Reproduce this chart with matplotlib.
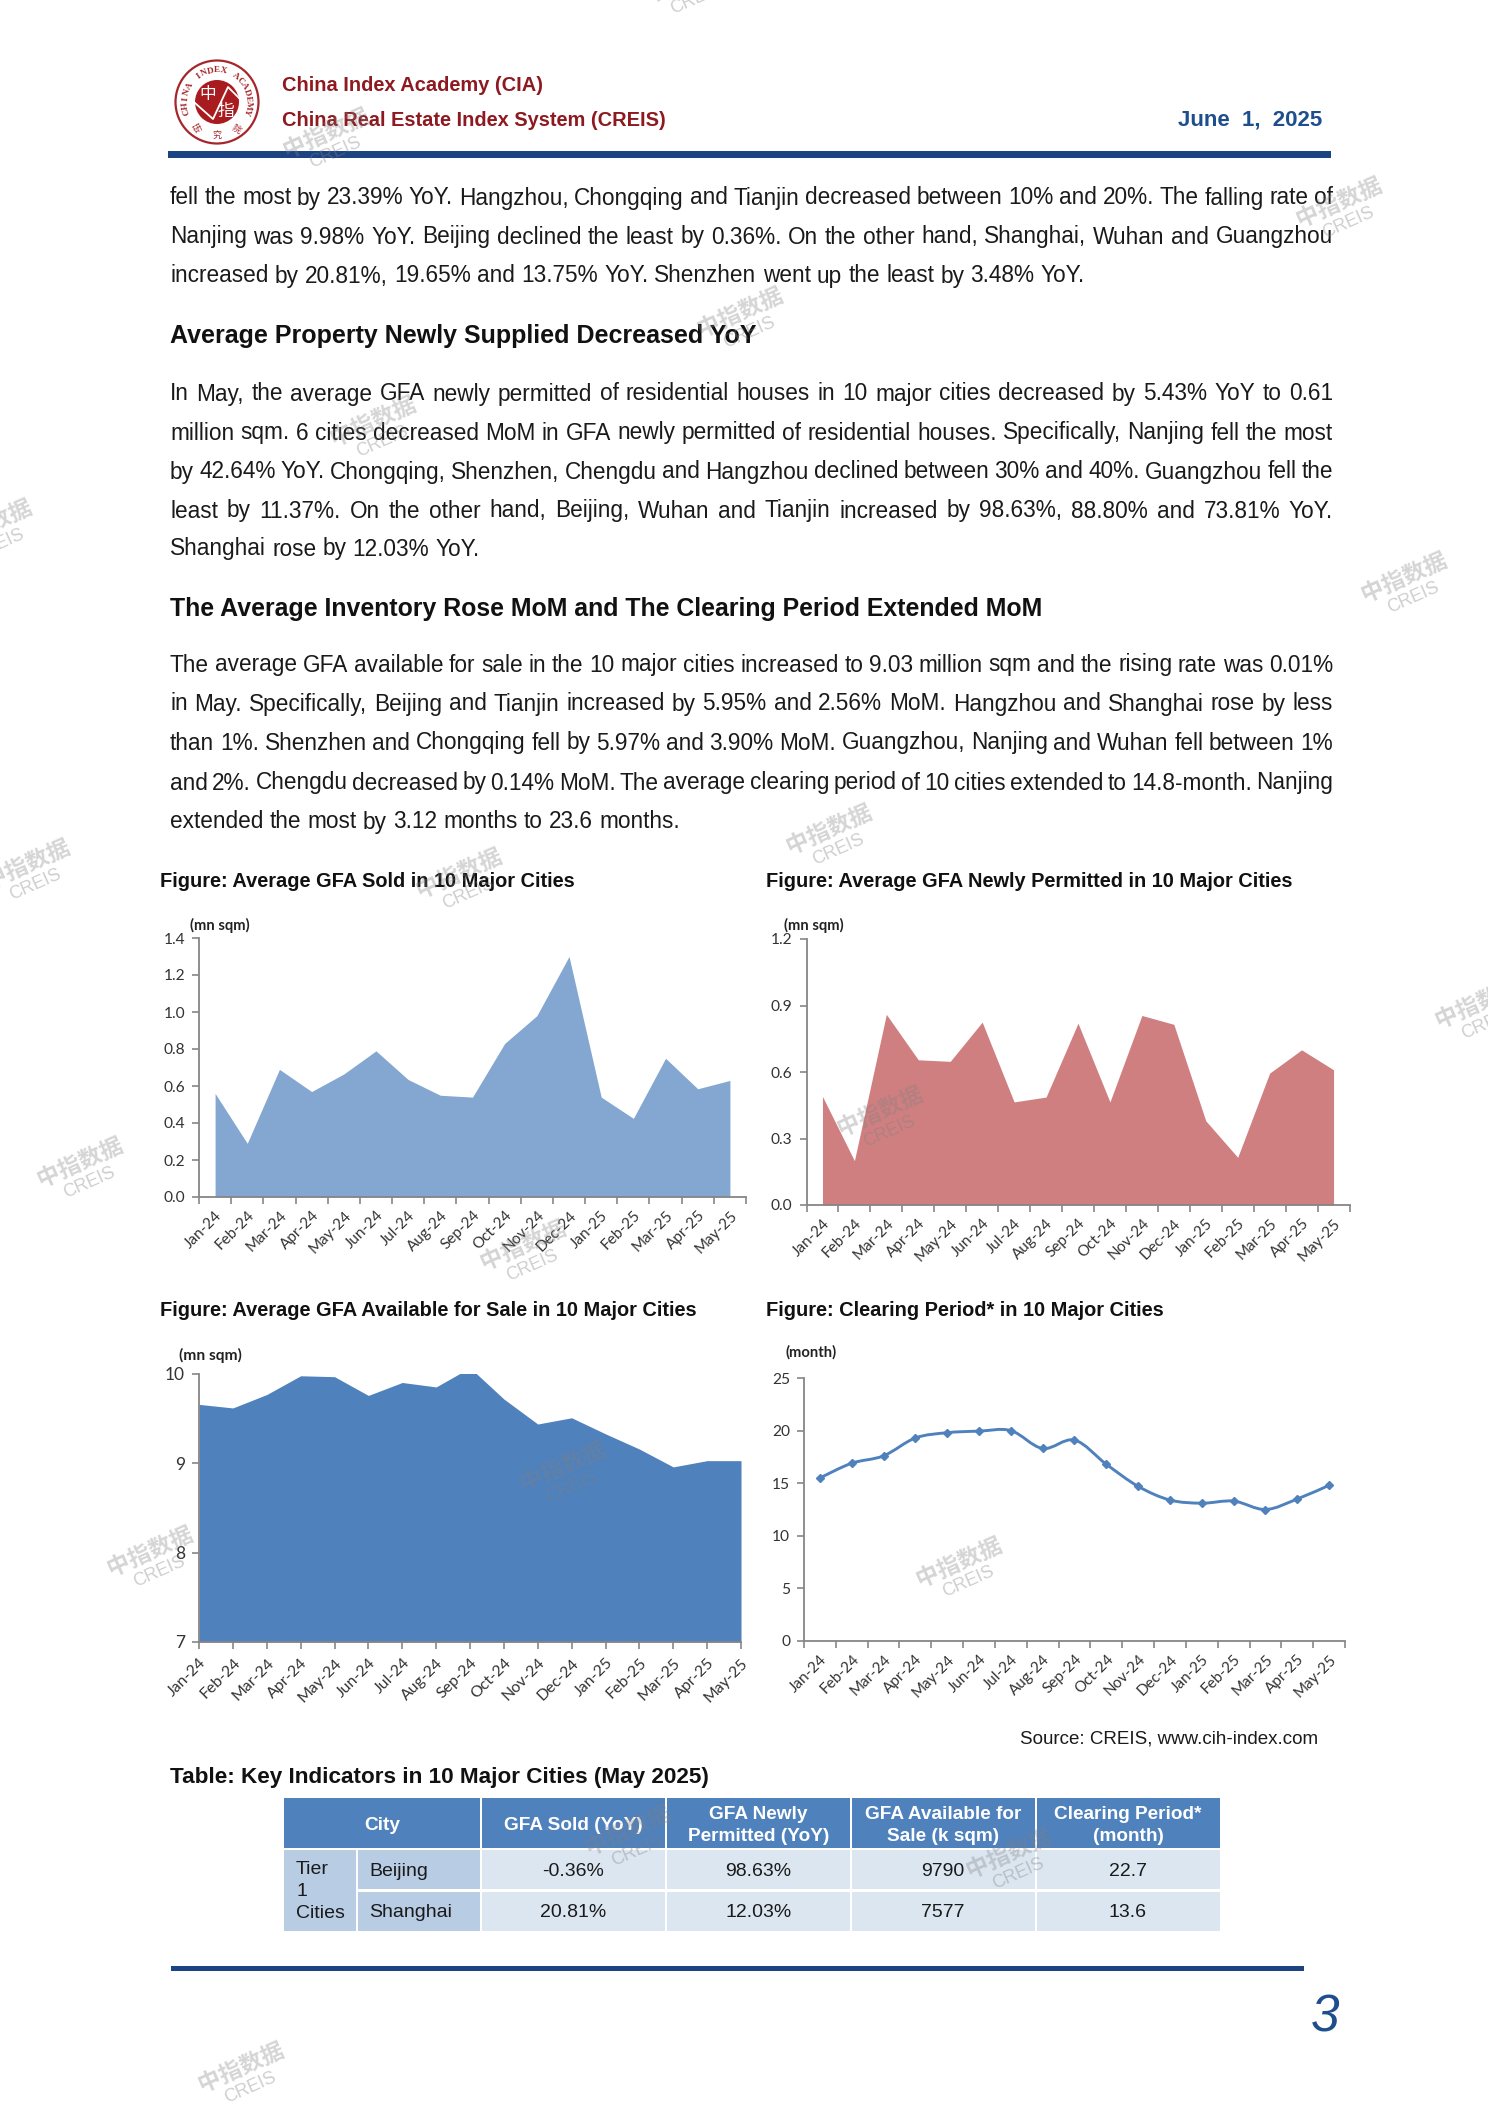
import numpy as np
import matplotlib
matplotlib.use("Agg")
import matplotlib.pyplot as plt
from matplotlib.patches import Rectangle, Circle, PathPatch
from matplotlib.path import Path

W, H = 1488, 2104
months = ["Jan-24","Feb-24","Mar-24","Apr-24","May-24","Jun-24","Jul-24","Aug-24","Sep-24",
          "Oct-24","Nov-24","Dec-24","Jan-25","Feb-25","Mar-25","Apr-25","May-25"]
gfa_sold = [0.56,0.29,0.69,0.57,0.665,0.79,0.635,0.55,0.54,0.83,0.98,1.30,0.54,0.425,0.75,0.585,0.63]
gfa_permitted = [0.49,0.20,0.86,0.655,0.648,0.825,0.465,0.487,0.82,0.465,0.855,0.815,0.38,0.215,0.595,0.70,0.61]
gfa_available = [9.66,9.62,9.77,9.98,9.97,9.76,9.905,9.855,10.07,9.72,9.44,9.51,9.33,9.16,8.96,9.03,9.03]
clearing = [15.5,16.9,17.6,19.3,19.8,19.95,20.0,18.3,19.1,16.8,14.7,13.4,13.1,13.3,12.5,13.5,14.8]

sold_ticks = [0.0,0.2,0.4,0.6,0.8,1.0,1.2,1.4]
permitted_ticks = [0.0,0.3,0.6,0.9,1.2]
available_ticks = [7,8,9,10]
clearing_ticks = [0,5,10,15,20,25]

para1 = ["fell the most by 23.39% YoY. Hangzhou, Chongqing and Tianjin decreased between 10% and 20%. The falling rate of",
         "Nanjing was 9.98% YoY. Beijing declined the least by 0.36%. On the other hand, Shanghai, Wuhan and Guangzhou",
         "increased by 20.81%, 19.65% and 13.75% YoY. Shenzhen went up the least by 3.48% YoY."]
heading1 = "Average Property Newly Supplied Decreased YoY"
para2 = ["In May, the average GFA newly permitted of residential houses in 10 major cities decreased by 5.43% YoY to 0.61",
         "million sqm. 6 cities decreased MoM in GFA newly permitted of residential houses. Specifically, Nanjing fell the most",
         "by 42.64% YoY. Chongqing, Shenzhen, Chengdu and Hangzhou declined between 30% and 40%. Guangzhou fell the",
         "least by 11.37%. On the other hand, Beijing, Wuhan and Tianjin increased by 98.63%, 88.80% and 73.81% YoY.",
         "Shanghai rose by 12.03% YoY."]
heading2 = "The Average Inventory Rose MoM and The Clearing Period Extended MoM"
para3 = ["The average GFA available for sale in the 10 major cities increased to 9.03 million sqm and the rising rate was 0.01%",
         "in May. Specifically, Beijing and Tianjin increased by 5.95% and 2.56% MoM. Hangzhou and Shanghai rose by less",
         "than 1%. Shenzhen and Chongqing fell by 5.97% and 3.90% MoM. Guangzhou, Nanjing and Wuhan fell between 1%",
         "and 2%. Chengdu decreased by 0.14% MoM. The average clearing period of 10 cities extended to 14.8-month. Nanjing",
         "extended the most by 3.12 months to 23.6 months."]

table_header = ["City","GFA Sold (YoY)","GFA Newly\nPermitted (YoY)","GFA Available for\nSale (k sqm)","Clearing Period*\n(month)"]
table_group = "Tier\n1\nCities"
table_cities = ["Beijing","Shanghai"]
table_rows = [["-0.36%","98.63%","9790","22.7"],["20.81%","12.03%","7577","13.6"]]

watermarks = [(243,103),(998,155),(552,237),(278,318),(1047,434),(-8,395),(20,648),(618,622),(342,655),
              (1102,752),(60,870),(656,832),(390,932),(420,1097),(112,1160),(715,1168),(468,1368),(752,1385),
              (180,1545),(512,-12)]

SANS = ["Liberation Sans", "DejaVu Sans"]
plt.rcParams["font.family"] = SANS
fig = plt.figure(figsize=(W/100, H/100), dpi=100, facecolor="white")
page = fig.add_axes([0,0,1,1], zorder=0)
page.set_xlim(0,W); page.set_ylim(H,0); page.axis("off")
rend = fig.canvas.get_renderer()

RED = "#8E1A20"; BODY = 16.3; DY = 2.5

def width(s, **kw):
    t = page.text(0,0,s,**kw); w = t.get_window_extent(rend).width; t.remove(); return w

def body(lines, ys):
    sp = width("a a", fontsize=BODY) - width("aa", fontsize=BODY)
    for i,(s,y) in enumerate(zip(lines,ys)):
        words = s.split(" ")
        ws = [width(w, fontsize=BODY) for w in words]
        last = i == len(lines)-1
        gap = sp if last else (1333-170-sum(ws))/(len(words)-1)
        x = 170
        for w,ww in zip(words,ws):
            page.text(x,y+DY-0.5,w,fontsize=BODY,color="#1a1a1a",va="center",ha="left")
            x += ww+gap

body(para1,[196,235,274])
page.text(170,333+DY,heading1,fontsize=18.0,fontweight="bold",color="#111",va="center")
body(para2,[392,431,470,509,547])
page.text(170,606.5+DY,heading2,fontsize=17.95,fontweight="bold",color="#111",va="center")
body(para3,[663,702,741,781,820])

# header
page.text(282,85.5,"China Index Academy (CIA)",fontsize=14.4,fontweight="bold",color=RED,va="center")
page.text(282,120.5,"China Real Estate Index System (CREIS)",fontsize=14.4,fontweight="bold",color=RED,va="center")
page.text(1322,120,"June  1,  2025",fontsize=16,fontweight="bold",color="#1F4E8C",va="center",ha="right")
page.add_patch(Rectangle((168,151),1163,7,fc="#1C4482",ec="none"))
# logo
cx,cy = 217,102
page.add_patch(Circle((cx,cy),41.5,fc="white",ec="#A6262B",lw=1.6))
page.add_patch(Circle((cx,cy),22,fc="#A81C20",ec="none"))
page.text(cx-9,cy-8,"中",fontsize=12,color="white",family="Noto Sans CJK SC",ha="center",va="center")
page.text(cx+9,cy+9,"指",fontsize=12,color="white",family="Noto Sans CJK SC",ha="center",va="center")
page.plot([cx-22,cx-4,cx+11,cx+22],[cy+1,cy+17,cy-15,cy-4],color="white",lw=1.3)
arc = "CHINA INDEX ACADEMY"
for ch,a in zip(arc,np.linspace(-108,108,len(arc))):
    r = np.radians(a)
    page.text(cx+31.5*np.sin(r),cy-31.5*np.cos(r),ch,fontsize=6.6,family="Liberation Serif",fontweight="bold",
              color="#A6262B",rotation=-a,ha="center",va="center",rotation_mode="anchor")
for ch,dx,dy,rt in zip("研究院",(-19,0,19),(27,33,27),(30,0,-30)):
    page.text(cx+dx,cy+dy,ch,fontsize=6.5,family="Noto Sans CJK SC",color="#A6262B",rotation=rt,ha="center",va="center")

# figure titles
for x,y,s in [(160,879,"Figure: Average GFA Sold in 10 Major Cities"),
              (766,879,"Figure: Average GFA Newly Permitted in 10 Major Cities"),
              (160,1308,"Figure: Average GFA Available for Sale in 10 Major Cities"),
              (766,1308,"Figure: Clearing Period* in 10 Major Cities")]:
    page.text(x,y+DY,s,fontsize=14.45,fontweight="bold",color="#111",va="center")
page.text(1318,1736+DY,"Source: CREIS, www.cih-index.com",fontsize=13.5,color="#1a1a1a",ha="right",va="center")

def make_ax(l,r,t,b):
    ax = fig.add_axes([l/W,1-b/H,(r-l)/W,(b-t)/H],zorder=2)
    ax.patch.set_alpha(0)
    for s in ("top","right"): ax.spines[s].set_visible(False)
    for s in ("left","bottom"):
        ax.spines[s].set_color("#868686"); ax.spines[s].set_linewidth(1.3)
    return ax

LAB = ["Lato","DejaVu Sans"]
LABKW = dict(rotation=45,ha="right",va="top",rotation_mode="anchor",color="#333",family=LAB)
def style(ax, ticks, fmt, unit, ux, uy, between=True, xsize=11.0, usize=10.6):
    n = len(months); xs = np.arange(n)
    if between:
        ax.set_xlim(-0.5,n-0.5)
        ax.set_xticks(np.arange(-0.5,n,1))
        ax.set_xticklabels([])
        ax.set_xticks(xs,minor=True)
        ax.set_xticklabels(months,minor=True,fontsize=xsize,**LABKW)
        ax.tick_params(axis="x",which="minor",length=0,pad=8)
    else:
        ax.set_xlim(0,n-1)
        ax.set_xticks(xs)
        ax.set_xticklabels(months,fontsize=xsize,**LABKW)
        ax.tick_params(axis="x",which="major",pad=5)
    ax.tick_params(axis="x",which="major",length=5,width=1.2,color="#868686",direction="out")
    ax.set_ylim(ticks[0],ticks[-1]); ax.set_yticks(ticks)
    ax.set_yticklabels([fmt.format(v) for v in ticks],fontsize=11.2,color="#333",family=LAB)
    ax.tick_params(axis="y",length=5,width=1.2,color="#868686",direction="out",pad=5)
    page.text(ux,uy,unit,fontsize=usize,fontweight="bold",family=LAB,color="#222",va="center")

xs = np.arange(len(months))
ax1 = make_ax(199,746,938,1197)
ax1.fill_between(xs,gfa_sold,sold_ticks[0],color="#84A7D1",lw=0)
style(ax1,sold_ticks,"{:.1f}","(mn sqm)",190,925)

ax2 = make_ax(806.5,1349.5,939,1205)
ax2.fill_between(xs,gfa_permitted,permitted_ticks[0],color="#CF7F80",lw=0)
style(ax2,permitted_ticks,"{:.1f}","(mn sqm)",784,925)

ax3 = make_ax(199,741,1374,1642)
ax3.fill_between(xs,gfa_available,available_ticks[0],color="#4F81BD",lw=0)
style(ax3,available_ticks,"{:d}","(mn sqm)",179,1355,between=False,xsize=11.4,usize=11.2)
ax3.tick_params(axis="y",labelsize=12.5)

ax4 = make_ax(804,1345,1378,1641)
style(ax4,clearing_ticks,"{:d}","(month)",785,1352)
# smooth line through the data, same way a spreadsheet smooths it
px = np.r_[xs[0],xs,xs[-1]].astype(float); py = np.r_[clearing[0],clearing,clearing[-1]]
verts=[(xs[0],clearing[0])]; codes=[Path.MOVETO]
for i in range(1,len(px)-2):
    verts += [(px[i]+(px[i+1]-px[i-1])/6,py[i]+(py[i+1]-py[i-1])/6),
              (px[i+1]-(px[i+2]-px[i])/6,py[i+1]-(py[i+2]-py[i])/6),
              (px[i+1],py[i+1])]
    codes += [Path.CURVE4]*3
ax4.add_patch(PathPatch(Path(verts,codes),fc="none",ec="#4F81BD",lw=2.1))
ax4.plot(xs,clearing,ls="none",marker="D",ms=4.2,color="#4F81BD")

# table
page.text(170,1775+DY,"Table: Key Indicators in 10 Major Cities (May 2025)",fontsize=16.2,fontweight="bold",color="#111",va="center")
xe = [284,356.5,480.5,665.5,851,1035.5,1220.5]
HD,C1,C2 = "#4F81BD","#B8CCE4","#DCE6F1"
TH,TS = 13.7,14.0
def cell(x0,x1,y0,y1,c):
    page.add_patch(Rectangle((x0,y0),x1-x0,y1-y0,fc=c,ec="none"))
hy0,hy1 = 1798,1847.5
cell(xe[0],xe[2]-1,hy0,hy1,HD)
page.text((xe[0]+xe[2])/2,(hy0+hy1)/2+DY,table_header[0],fontsize=TH,fontweight="bold",color="white",ha="center",va="center")
for j in range(1,5):
    cell(xe[j+1]+1,xe[j+2]-1,hy0,hy1,HD)
    page.text((xe[j+1]+xe[j+2])/2,(hy0+hy1)/2+DY,table_header[j],fontsize=TH,fontweight="bold",color="white",ha="center",va="center",linespacing=1.35)
cell(xe[0],xe[1]-1,1850,1930.5,C1)
page.text(xe[0]+12,1890+DY-1,table_group,fontsize=TS,color="#1a1a1a",ha="left",va="center",linespacing=1.42)
rows_y = [(1850,1889),(1892,1930.5)]
for (y0,y1),city,row in zip(rows_y,table_cities,table_rows):
    cell(xe[1]+1,xe[2]-1,y0,y1,C1)
    page.text(xe[1]+13,(y0+y1)/2+DY-1,city,fontsize=TS,color="#1a1a1a",ha="left",va="center")
    for j,v in enumerate(row):
        cell(xe[j+2]+1,xe[j+3]-1,y0,y1,C2)
        page.text((xe[j+2]+xe[j+3])/2,(y0+y1)/2+DY-1,v,fontsize=TS,color="#1a1a1a",ha="center",va="center")
page.add_patch(Rectangle((171,1966),1133,5,fc="#1C4482",ec="none"))
page.text(1325,2018,"3",fontsize=37,style="italic",color="#1F4E8C",ha="center",va="center")

# watermarks
over = fig.add_axes([0,0,1,1],zorder=5)
over.set_xlim(0,W); over.set_ylim(H,0); over.axis("off"); over.patch.set_alpha(0)
k = W/1109
for sx,sy in watermarks:
    x,y = sx*k,sy*k
    over.text(x,y-5,"中指数据",fontsize=16.5,family="Noto Sans CJK SC",fontweight="bold",color="#808080",alpha=0.33,rotation=24,ha="center",va="center",clip_on=True)
    over.text(x+9,y+15,"CREIS",fontsize=13,family="Liberation Sans",color="#808080",alpha=0.38,rotation=24,ha="center",va="center",clip_on=True)

fig.savefig("out.png",dpi=100,facecolor="white")
